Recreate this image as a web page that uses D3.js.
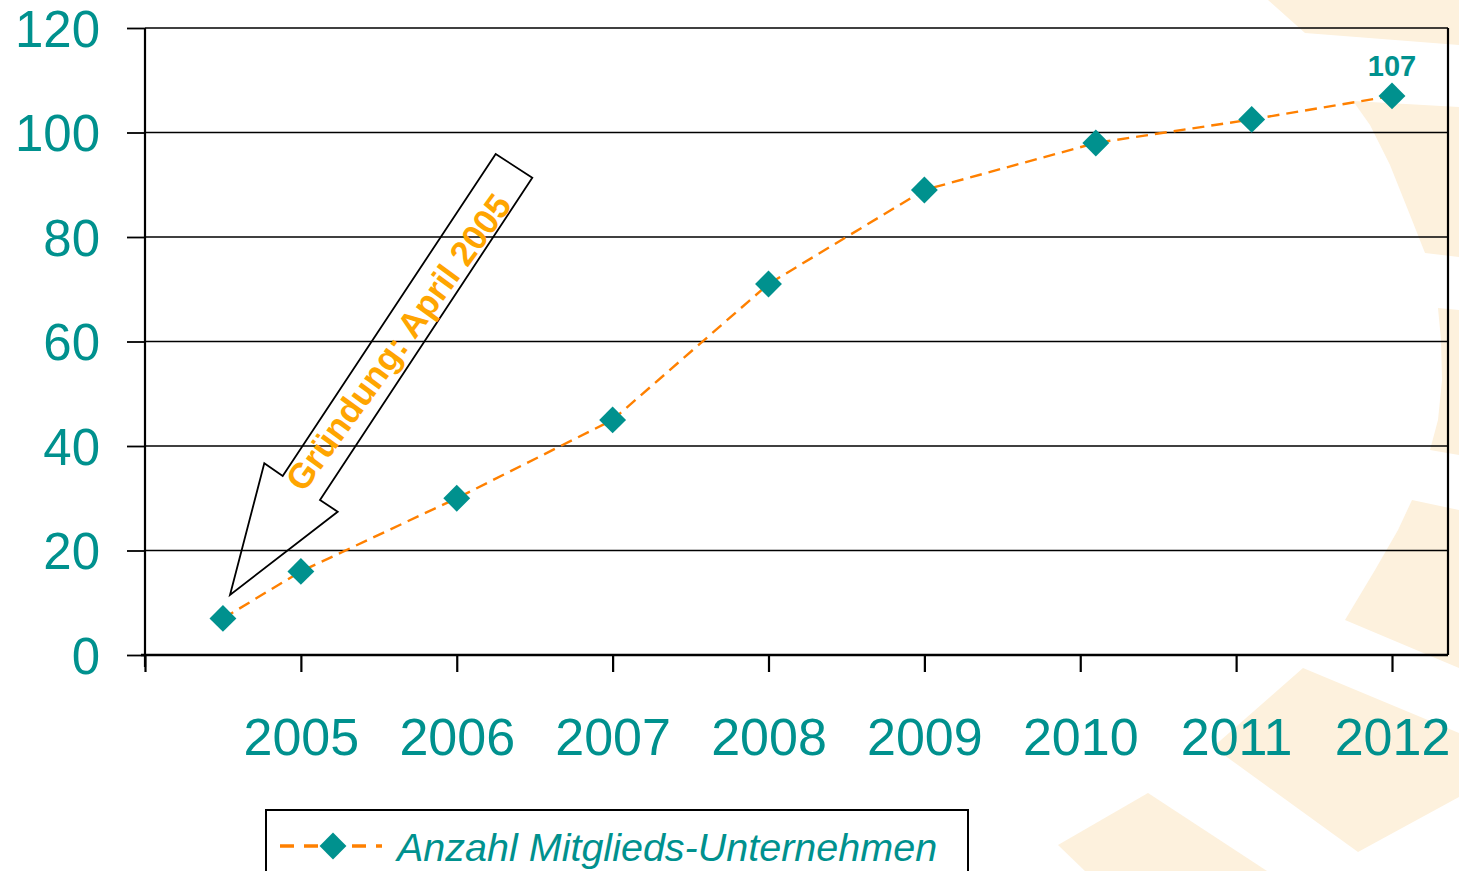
<!DOCTYPE html>
<html>
<head>
<meta charset="utf-8">
<script src="https://cdn.jsdelivr.net/npm/d3@7"></script>
<style>
  html, body { margin: 0; padding: 0; background: #ffffff; }
  svg { display: block; font-family: "Liberation Sans", Arial, sans-serif; }
  svg text { font-family: "Liberation Sans", Arial, sans-serif; }
</style>
</head>
<body>
<svg id="chart" width="1459" height="871"></svg>
<script>
// ---- data ----
const years = [2004.5, 2005, 2006, 2007, 2008, 2009, 2010.1, 2011.1, 2012];
const members = [7, 16, 30, 45, 71, 89, 98, 102.5, 107];
const xTickValues = [2004, 2005, 2006, 2007, 2008, 2009, 2010, 2011, 2012];
const xTickLabels = ["", "2005", "2006", "2007", "2008", "2009", "2010", "2011", "2012"];
const yTickValues = [0, 20, 40, 60, 80, 100, 120];
const seriesName = "Anzahl Mitglieds-Unternehmen";
const annotationText = "Gründung: April 2005";

// ---- styles ----
const FONT = "'Liberation Sans', Arial, sans-serif";
const TEAL = "#00918E";
const ORANGE = "#FF8000";
const AMBER = "#FFA500";
const BGTINT = "#FDF1DD";

const svg = d3.select("#chart");

// decorative faint background shapes (logo)
const bg = svg.append("g");
const shapes = [
  [[1268,0],[1459,0],[1459,45],[1305,33]],
  [[1353,101],[1459,107],[1459,257],[1425,253],[1410,215],[1390,165],[1370,125]],
  [[1438,308],[1459,310],[1459,455],[1430,450],[1438,420],[1442,380],[1441,340]],
  [[1412,500],[1459,510],[1459,668],[1345,620],[1375,570],[1398,530]],
  [[1303,668],[1459,733],[1459,797],[1358,852],[1213,747]],
  [[1058,845],[1148,793],[1267,871],[1085,871]]
];
bg.selectAll("path").data(shapes).join("path")
  .attr("d", d => d3.line()(d) + "Z")
  .attr("fill", BGTINT);

// ---- scales ----
const x = d3.scaleLinear().domain([2004, 2012]).range([145, 1392]);
const y = d3.scaleLinear().domain([0, 120]).range([655, 28]);
const plotRight = 1448;

// gridlines
svg.append("g").selectAll("line").data(yTickValues.filter(v => v > 0)).join("line")
  .attr("x1", x(2004)).attr("x2", plotRight)
  .attr("y1", d => y(d)).attr("y2", d => y(d))
  .attr("stroke", "#000").attr("stroke-width", 1.6);

// right border
svg.append("line")
  .attr("x1", plotRight).attr("x2", plotRight)
  .attr("y1", y(120)).attr("y2", y(0))
  .attr("stroke", "#000").attr("stroke-width", 2.2);

// y axis
const yAxis = svg.append("g")
  .attr("transform", `translate(${x(2004)},0)`)
  .call(d3.axisLeft(y).tickValues(yTickValues).tickSizeInner(18).tickSizeOuter(0).tickPadding(27));
yAxis.select(".domain").attr("stroke-width", 2.2).attr("d", `M0,${y(120)}V${y(0) + 12}`);
yAxis.selectAll(".tick line").attr("stroke-width", 1.8);
yAxis.selectAll(".tick text")
  .attr("fill", TEAL).attr("font-size", 51)
  .attr("font-family", FONT)
  .attr("dy", "0.36em");

// x axis
const xAxis = svg.append("g")
  .attr("transform", `translate(0,${y(0)})`)
  .call(d3.axisBottom(x).tickValues(xTickValues).tickSizeInner(17).tickSizeOuter(0)
    .tickFormat((d, i) => xTickLabels[i]));
xAxis.select(".domain").attr("stroke-width", 2.4).attr("d", `M${x(2004) - 4},0H${plotRight}`);
xAxis.selectAll(".tick line").attr("stroke-width", 2.2);
xAxis.selectAll(".tick text")
  .attr("fill", TEAL).attr("font-size", 52)
  .attr("font-family", FONT)
  .attr("y", 100).attr("dy", 0);

// series line
const pts = years.map((yr, i) => [x(yr), y(members[i])]);
svg.append("path")
  .attr("d", d3.line()(pts))
  .attr("fill", "none")
  .attr("stroke", ORANGE)
  .attr("stroke-width", 2.4)
  .attr("stroke-dasharray", "12,7");

// markers (diamonds)
const diamond = d3.symbol().type(d3.symbolSquare).size(19 * 19);
svg.append("g").selectAll("path").data(pts).join("path")
  .attr("d", diamond)
  .attr("transform", d => `translate(${d[0]},${d[1]}) rotate(45)`)
  .attr("fill", TEAL);

// last value label
const last = members.length - 1;
svg.append("text")
  .attr("x", x(years[last])).attr("y", y(members[last]) - 20)
  .attr("text-anchor", "middle")
  .attr("font-family", FONT)
  .attr("font-size", 29).attr("font-weight", "bold")
  .attr("fill", TEAL)
  .text(members[last]);

// block arrow annotation
const arrow = [[495.7,154],[532.3,177.7],[320,500],[337.7,511.7],[230,595],[264.3,463.3],[282.7,476]];
svg.append("path")
  .attr("d", d3.line()(arrow) + "Z")
  .attr("fill", "none")
  .attr("stroke", "#000")
  .attr("stroke-width", 1.8)
  .attr("stroke-linejoin", "miter");
svg.append("text")
  .attr("transform", "translate(398,342) rotate(-54)")
  .attr("text-anchor", "middle")
  .attr("dy", "0.36em")
  .attr("font-family", FONT)
  .attr("font-size", 35).attr("font-weight", "bold")
  .attr("fill", AMBER)
  .text(annotationText);

// legend
const lg = svg.append("g");
lg.append("rect")
  .attr("x", 266).attr("y", 810).attr("width", 702).attr("height", 80)
  .attr("fill", "#fff").attr("stroke", "#000").attr("stroke-width", 2);
lg.append("line")
  .attr("x1", 280).attr("x2", 382).attr("y1", 846).attr("y2", 846)
  .attr("stroke", ORANGE).attr("stroke-width", 3.5).attr("stroke-dasharray", "14,10");
lg.append("path")
  .attr("d", diamond)
  .attr("transform", "translate(333,846) rotate(45)")
  .attr("fill", TEAL);
lg.append("text")
  .attr("x", 397).attr("y", 861)
  .attr("font-family", FONT)
  .attr("font-size", 39.5).attr("font-style", "italic")
  .attr("fill", TEAL)
  .text(seriesName);
</script>
</body>
</html>
